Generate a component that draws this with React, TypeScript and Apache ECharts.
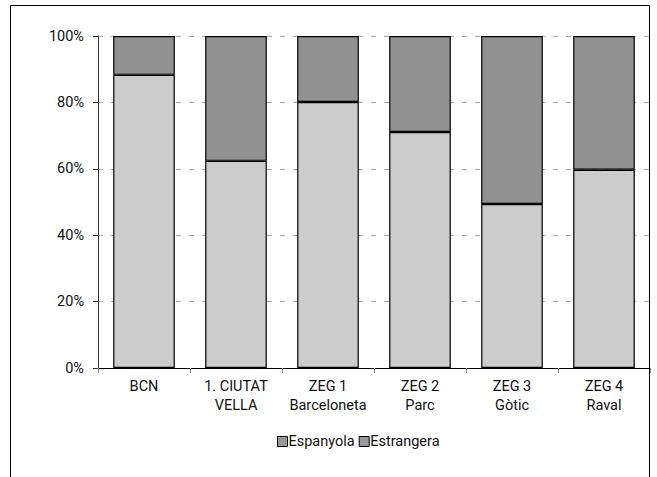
import React, { useEffect, useRef } from "react";
import * as echarts from "echarts";

const categories = ["BCN", "1. CIUTAT\nVELLA", "ZEG 1\nBarceloneta", "ZEG 2\nParc", "ZEG 3\nGòtic", "ZEG 4\nRaval"];
const espanyola = [88.3, 62.4, 80.1, 71.1, 49.4, 59.7];
const estrangera = [11.7, 37.6, 19.9, 28.9, 50.6, 40.3];
const seriesNames = ["Espanyola", "Estrangera"];

export default function App() {
  const ref = useRef<HTMLDivElement>(null);
  useEffect(() => {
    document.body.style.margin = "0";
    const chart = echarts.init(ref.current!, undefined, { renderer: "svg" });
    const font = "Roboto, sans-serif";
    chart.setOption({
      animation: false,
      backgroundColor: "#ffffff",
      textStyle: { fontFamily: font },
      graphic: [
        {
          type: "rect",
          shape: { x: 10.5, y: 5.5, width: 639, height: 480 },
          style: { fill: "none", stroke: "#000", lineWidth: 1 },
          silent: true,
        },
      ],
      grid: { left: 98, right: 7, top: 36, bottom: 109, containLabel: false },
      legend: {
        left: 272,
        top: 429,
        itemWidth: 10,
        itemHeight: 10,
        itemGap: 4,
        icon: "rect",
        textStyle: { fontFamily: font, fontSize: 14.5, color: "#111", padding: [0, 0, 0, -4] },
        data: seriesNames.map((n) => ({
          name: n,
          itemStyle: { color: "#999999", borderColor: "#000", borderWidth: 1 },
        })),
      },
      xAxis: {
        type: "category",
        data: categories,
        axisLine: { lineStyle: { color: "#000", width: 1 } },
        axisTick: { show: true, length: 5, lineStyle: { color: "#888" } },
        axisLabel: { interval: 0, color: "#111", fontSize: 14.5, fontFamily: font, margin: 9, lineHeight: 19 },
      },
      yAxis: {
        type: "value",
        min: 0,
        max: 100,
        interval: 20,
        axisLine: { show: true, lineStyle: { color: "#333" } },
        axisTick: { show: true, length: 5, lineStyle: { color: "#333" } },
        axisLabel: { formatter: "{value}%", color: "#111", fontSize: 14.5, fontFamily: font, margin: 14 },
        splitLine: { show: true, lineStyle: { type: [5, 8], color: "#aaaaaa" } },
      },
      series: [
        {
          name: seriesNames[0],
          type: "bar",
          stack: "t",
          data: espanyola,
          barWidth: "67%",
          itemStyle: { color: "#cccccc", borderColor: "#000", borderWidth: 1.2 },
        },
        {
          name: seriesNames[1],
          type: "bar",
          stack: "t",
          data: estrangera,
          barWidth: "67%",
          itemStyle: { color: "#919191", borderColor: "#000", borderWidth: 1.2 },
        },
      ],
    });
    return () => chart.dispose();
  }, []);
  return <div ref={ref} style={{ width: 657, height: 477 }} />;
}
